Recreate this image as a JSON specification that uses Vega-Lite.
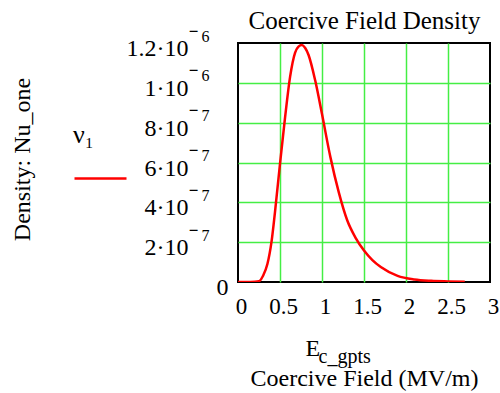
{
  "$schema": "https://vega.github.io/schema/vega-lite/v6.json",
  "width": 252,
  "height": 239,
  "autosize": "none",
  "padding": {"left": 238, "top": 43, "right": 10, "bottom": 111},
  "background": "white",
  "config": {
    "view": {"stroke": "black", "strokeWidth": 2},
    "font": "Liberation Serif"
  },
  "data": {
    "values": [
      {"E": 0, "density": 0},
      {"E": 0.1, "density": 0},
      {"E": 0.2, "density": 1e-9},
      {"E": 0.25, "density": 4e-9},
      {"E": 0.3, "density": 3.3e-8},
      {"E": 0.35, "density": 9e-8},
      {"E": 0.4, "density": 2.05e-7},
      {"E": 0.44, "density": 3.5e-7},
      {"E": 0.5, "density": 5.93e-7},
      {"E": 0.56, "density": 8.25e-7},
      {"E": 0.62, "density": 1.03e-6},
      {"E": 0.68, "density": 1.152e-6},
      {"E": 0.72, "density": 1.182e-6},
      {"E": 0.76, "density": 1.19e-6},
      {"E": 0.8, "density": 1.175e-6},
      {"E": 0.84, "density": 1.14e-6},
      {"E": 0.92, "density": 1.01e-6},
      {"E": 1.0, "density": 8.43e-7},
      {"E": 1.1, "density": 6.27e-7},
      {"E": 1.2, "density": 4.5e-7},
      {"E": 1.3, "density": 3.1e-7},
      {"E": 1.4, "density": 2.22e-7},
      {"E": 1.5, "density": 1.58e-7},
      {"E": 1.6, "density": 1.1e-7},
      {"E": 1.7, "density": 7.5e-8},
      {"E": 1.9, "density": 3.1e-8},
      {"E": 2.1, "density": 1.3e-8},
      {"E": 2.3, "density": 6e-9},
      {"E": 2.5, "density": 3e-9},
      {"E": 2.7, "density": 1e-9}
    ]
  },
  "layer": [
    {
      "mark": {"type": "line", "strokeWidth": 2.5, "interpolate": "monotone", "clip": true},
      "encoding": {
        "x": {
          "field": "E",
          "type": "quantitative",
          "scale": {"domain": [0, 3], "nice": false, "zero": false},
          "axis": {
            "orient": "bottom",
            "values": [0, 0.5, 1, 1.5, 2, 2.5, 3],
            "format": "~g",
            "grid": true,
            "gridColor": "#44ee44",
            "gridWidth": 1.5,
            "gridOpacity": {"condition": {"test": "datum.value == 0 || datum.value == 3", "value": 0}, "value": 1},
            "domain": false,
            "ticks": false,
            "tickSize": 0,
            "labelFont": "Liberation Serif",
            "labelFontSize": 23,
            "labelColor": "black",
            "labelPadding": 13,
            "labelOffset": 3,
            "labelFlush": false,
            "labelOverlap": false,
            "labelBaseline": "top",
            "title": "Coercive Field (MV/m)",
            "titleFont": "Liberation Serif",
            "titleFontSize": 24,
            "titleFontWeight": "normal",
            "titleColor": "black",
            "titleX": 126,
            "titleY": 103,
            "titleAlign": "center",
            "titleBaseline": "alphabetic"
          }
        },
        "y": {
          "field": "density",
          "type": "quantitative",
          "scale": {"domain": [0, 1.2e-6], "nice": false, "zero": true},
          "axis": {
            "orient": "left",
            "values": [0, 2e-7, 4e-7, 6e-7, 8e-7, 1e-6, 1.2e-6],
            "grid": true,
            "gridColor": "#44ee44",
            "gridWidth": 1.5,
            "gridOpacity": {"condition": {"test": "datum.value == 0 || datum.value > 1.1e-6", "value": 0}, "value": 1},
            "domain": false,
            "ticks": false,
            "tickSize": 0,
            "labelExpr": "datum.value == 0 ? '0' : (datum.value < 9.9e-7 ? format(datum.value * 1e7, 'd') + '·10' : format(datum.value * 1e6, '.1~f') + '·10')",
            "labelFont": "Liberation Serif",
            "labelFontSize": 24,
            "labelColor": "black",
            "labelBaseline": "alphabetic",
            "labelOffset": 12.5,
            "labelPadding": {"condition": {"test": "datum.value == 0", "value": 10}, "value": 50},
            "labelFlush": false,
            "labelOverlap": false,
            "title": "Density: Nu_one",
            "titleFont": "Liberation Serif",
            "titleFontSize": 24,
            "titleFontWeight": "normal",
            "titleColor": "black",
            "titleAngle": 270,
            "titleX": -209,
            "titleY": 116,
            "titleAlign": "center",
            "titleBaseline": "alphabetic"
          }
        },
        "color": {
          "datum": "ν₁",
          "type": "nominal",
          "scale": {"range": ["#ff0000"]},
          "legend": {
            "orient": "none",
            "legendX": -165,
            "legendY": 79,
            "padding": 0,
            "title": "ν₁",
            "titleFont": "Liberation Serif",
            "titleFontSize": 26,
            "titleFontWeight": "normal",
            "titleColor": "black",
            "titlePadding": 3,
            "symbolType": "stroke",
            "symbolSize": 2704,
            "symbolStrokeWidth": 2.5,
            "labelExpr": "''",
            "labelFontSize": 10
          }
        }
      }
    },
    {
      "mark": {"type": "line", "opacity": 0},
      "encoding": {
        "x": {
          "field": "E",
          "type": "quantitative",
          "axis": {
            "orient": "bottom",
            "labels": false,
            "ticks": false,
            "domain": false,
            "grid": false,
            "title": "E",
            "titleFont": "Liberation Serif",
            "titleFontSize": 24,
            "titleFontWeight": "normal",
            "titleColor": "black",
            "titleX": 67,
            "titleY": 73,
            "titleAlign": "left",
            "titleBaseline": "alphabetic"
          }
        },
        "y": {
          "field": "density",
          "type": "quantitative",
          "axis": {
            "orient": "left",
            "values": [2e-7, 4e-7, 6e-7, 8e-7, 1e-6, 1.2e-6],
            "grid": false,
            "domain": false,
            "ticks": false,
            "tickSize": 0,
            "labelExpr": "datum.value < 9.9e-7 ? '7' : '6'",
            "labelFont": "Liberation Serif",
            "labelFontSize": 16,
            "labelColor": "black",
            "labelBaseline": "alphabetic",
            "labelOffset": -2,
            "labelPadding": 29,
            "labelFlush": false,
            "labelOverlap": false,
            "title": null
          }
        }
      }
    },
    {
      "mark": {"type": "line", "opacity": 0},
      "encoding": {
        "x": {
          "field": "E",
          "type": "quantitative",
          "axis": {
            "orient": "bottom",
            "labels": false,
            "ticks": false,
            "domain": false,
            "grid": false,
            "title": "c_gpts",
            "titleFont": "Liberation Serif",
            "titleFontSize": 20,
            "titleFontWeight": "normal",
            "titleColor": "black",
            "titleX": 80,
            "titleY": 80,
            "titleAlign": "left",
            "titleBaseline": "alphabetic"
          }
        },
        "y": {
          "field": "density",
          "type": "quantitative",
          "axis": {
            "orient": "left",
            "values": [2e-7, 4e-7, 6e-7, 8e-7, 1e-6, 1.2e-6],
            "grid": false,
            "domain": false,
            "ticks": false,
            "tickSize": 0,
            "labelExpr": "'−'",
            "labelFont": "Liberation Serif",
            "labelFontSize": 17,
            "labelFontWeight": "bold",
            "labelColor": "black",
            "labelBaseline": "alphabetic",
            "labelOffset": -7,
            "labelPadding": 40,
            "labelFlush": false,
            "labelOverlap": false,
            "title": null
          }
        }
      }
    },
    {
      "mark": {"type": "line", "opacity": 0},
      "encoding": {
        "x": {
          "field": "E",
          "type": "quantitative",
          "axis": {
            "orient": "top",
            "labels": false,
            "ticks": false,
            "domain": false,
            "grid": false,
            "title": "Coercive Field Density",
            "titleFont": "Liberation Serif",
            "titleFontSize": 25,
            "titleFontWeight": "normal",
            "titleColor": "black",
            "titleX": 126,
            "titleY": -15,
            "titleAlign": "center",
            "titleBaseline": "alphabetic"
          }
        },
        "y": {"field": "density", "type": "quantitative", "axis": null}
      }
    }
  ],
  "resolve": {"axis": {"x": "independent", "y": "independent"}}
}
